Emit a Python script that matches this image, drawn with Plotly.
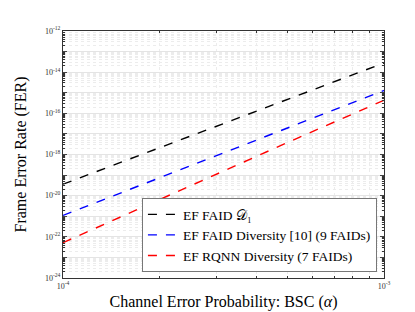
import plotly.graph_objects as go

# Data
alpha = [1e-4, 2e-4, 5e-4, 1e-3]
fer_faid_d1 = [3.6e-20, 2.1e-18, 4.7e-16, 2.8e-14]
fer_faid_div = [1.1e-21, 7.5e-20, 2.0e-17, 1.3e-15]
fer_rqnn_div = [5.2e-23, 6.7e-21, 3.8e-18, 4.3e-16]

series_names = ["EF FAID 𝒟₁",
                "EF FAID Diversity [10] (9 FAIDs)",
                "EF RQNN Diversity (7 FAIDs)"]
series_colors = ["#000000", "#0000ff", "#ff0000"]

y_tickvals = [10.0 ** e for e in range(-24, -11)]
y_ticktext = [("10<sup>%d</sup>" % e) if e % 2 == 0 else "" for e in range(-24, -11)]
x_tickvals = [1e-4, 1e-3]
x_ticktext = ["10<sup>-4</sup>", "10<sup>-3</sup>"]

fig = go.Figure()
for name, ys, col in zip(series_names, [fer_faid_d1, fer_faid_div, fer_rqnn_div], series_colors):
    fig.add_trace(go.Scatter(x=alpha, y=ys, mode="lines", name=name,
                             line=dict(color=col, width=1.4, dash="dash")))

font_family = "Liberation Serif"
fig.update_layout(
    width=415, height=312,
    margin=dict(l=55, r=39, t=23, b=36),
    paper_bgcolor="white", plot_bgcolor="white",
    font=dict(family=font_family, color="black"),
    showlegend=True,
    legend=dict(x=0.978, y=0.024, xanchor="right", yanchor="bottom",
                bgcolor="white", bordercolor="#777777", borderwidth=1,
                font=dict(family=font_family, size=13.5),
                tracegroupgap=0, itemwidth=30),
    xaxis=dict(type="log", range=[-4, -3],
               tickvals=x_tickvals, ticktext=x_ticktext,
               tickfont=dict(size=8, family=font_family, color="#333"),
               ticks="inside", ticklen=4, mirror="allticks",
               showline=True, linecolor="#333", linewidth=1,
               showgrid=True, gridcolor="#e4e4e4", gridwidth=1,
               minor=dict(showgrid=True, gridcolor="#ececec", griddash="dot",
                          ticks="inside", ticklen=2, dtick="D1", tickcolor="#333"),
               title=dict(text="Channel Error Probability: BSC (<i>α</i>)",
                          font=dict(size=16, family=font_family), standoff=6),
               zeroline=False),
    yaxis=dict(type="log", range=[-24, -12],
               tickvals=y_tickvals, ticktext=y_ticktext,
               tickfont=dict(size=8, family=font_family, color="#333"),
               ticks="inside", ticklen=4, mirror="allticks",
               showline=True, linecolor="#333", linewidth=1,
               showgrid=True, gridcolor="#e4e4e4", gridwidth=1,
               minor=dict(showgrid=True, gridcolor="#ececec", griddash="dot",
                          ticks="inside", ticklen=2, dtick="D1", tickcolor="#333"),
               title=dict(text="Frame Error Rate (FER)",
                          font=dict(size=16, family=font_family), standoff=14),
               zeroline=False),
)

fig.write_html("out.html")
